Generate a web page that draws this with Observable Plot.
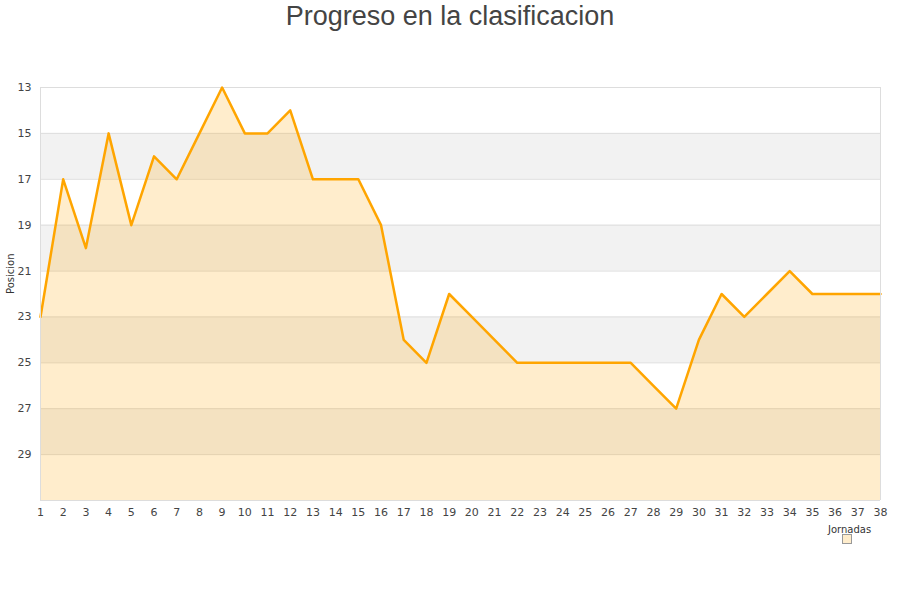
<!DOCTYPE html>
<html><head><meta charset="utf-8">
<script src="https://cdn.jsdelivr.net/npm/d3@7"></script>
<script src="https://cdn.jsdelivr.net/npm/@observablehq/plot@0.6"></script>
<style>
body{margin:0;background:#fff;width:900px;height:600px;position:relative;overflow:hidden;font-family:"DejaVu Sans",sans-serif;}
#title{position:absolute;left:0;top:0;width:900px;text-align:center;font-family:"Liberation Sans",Arial,sans-serif;font-size:27px;color:#444;line-height:32px;}
#chart{position:absolute;left:0;top:40px;}
#legend{position:absolute;left:828px;top:524px;font-size:10px;color:#333;}
#legend .sw{position:absolute;left:14px;top:10px;width:8px;height:8px;background:#ffedcc;border:1px solid #999;}
</style></head>
<body>
<div id="title">Progreso en la clasificacion</div>
<div id="chart"></div>
<div id="legend"><span>Jornadas</span><div class="sw"></div></div>
<script>
const jornadas = d3.range(1, 39);
const posiciones = [23,17,20,15,19,16,17,15,13,15,15,14,17,17,17,19,24,25,22,23,24,25,25,25,25,25,25,26,27,24,22,23,22,21,22,22,22,22];
const yTicks = [13,15,17,19,21,23,25,27,29];
const bandLo = [15,19,23,27];
const bandHi = [17,21,25,29];
const yMin = 13, yMax = 31;

const data = jornadas.map((j,i)=>({j, p: posiciones[i]}));
const bands = bandLo.map((lo,i)=>({lo, hi: bandHi[i]}));

const plot = Plot.plot({
  width: 900, height: 560,
  marginTop: 47, marginBottom: 100, marginLeft: 40, marginRight: 20,
  style: {fontFamily: "DejaVu Sans, sans-serif", fontSize: "11px", color: "#444", background: "transparent"},
  x: {domain: [1, 38], ticks: jornadas, tickSize: 0, tickPadding: 8, label: null, tickFormat: d=>String(d)},
  y: {domain: [yMin, yMax], reverse: true, ticks: yTicks, tickSize: 0, tickPadding: 9, label: null},
  marks: [
    Plot.rect(bands, {x1: 1, x2: 38, y1: "lo", y2: "hi", fill: "#f2f2f2"}),
    Plot.ruleY(yTicks, {stroke: "#dddddd", strokeWidth: 1}),
    Plot.areaY(data, {x: "j", y1: yMax, y2: "p", fill: "#ffa500", fillOpacity: 0.2}),
    Plot.lineY(data, {x: "j", y: "p", stroke: "#ffa500", strokeWidth: 2.5}),
    Plot.ruleX([1, 38], {stroke: "#dddddd", strokeWidth: 1}),
    Plot.ruleY([yMax], {stroke: "#dddddd", strokeWidth: 1}),
    Plot.axisY({ticks: yTicks, tickSize: 0, tickPadding: 9, label: null}),
    Plot.axisX({ticks: jornadas, tickSize: 0, tickPadding: 8, label: null}),
    Plot.text(["Posicion"], {frameAnchor: "left", dx: -30, rotate: -90, fontSize: 10, fill: "#333"})
  ]
});
document.getElementById("chart").appendChild(plot);
</script>
</body></html>
